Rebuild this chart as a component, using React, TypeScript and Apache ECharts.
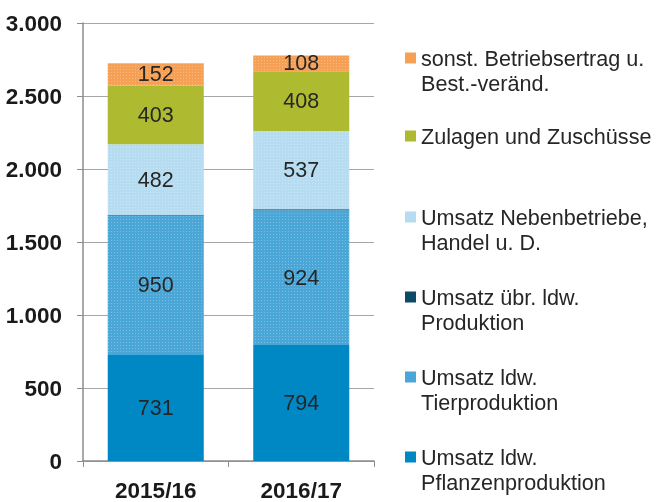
import React, { useEffect, useRef } from "react";
import * as echarts from "echarts";

const categories = ["2015/16", "2016/17"];
const seriesNames = [
  "Umsatz ldw. Pflanzenproduktion",
  "Umsatz ldw. Tierproduktion",
  "Umsatz übr. ldw. Produktion",
  "Umsatz Nebenbetriebe, Handel u. D.",
  "Zulagen und Zuschüsse",
  "sonst. Betriebsertrag u. Best.-veränd.",
];
const legendLines = [
  ["Umsatz ldw.", "Pflanzenproduktion"],
  ["Umsatz ldw.", "Tierproduktion"],
  ["Umsatz übr. ldw.", "Produktion"],
  ["Umsatz Nebenbetriebe,", "Handel u. D."],
  ["Zulagen und Zuschüsse"],
  ["sonst. Betriebsertrag u.", "Best.-veränd."],
];
const pflanzen = [731, 794];
const tier = [950, 924];
const uebrige = [6, 6];
const neben = [482, 537];
const zulagen = [403, 408];
const sonst = [152, 108];
const seriesValues = [pflanzen, tier, uebrige, neben, zulagen, sonst];
const showLabels = [true, true, false, true, true, true];
const colors = ["#0088c4", "#4aa6d6", "#0c4a66", "#b6dcf1", "#aebb30", "#f5a055"];
const hasPattern = [false, true, false, true, false, true];
const yTicks = [0, 500, 1000, 1500, 2000, 2500, 3000];
const legendCenters = [457, 377, 297, 217, 136, 58];

const FONT = "Liberation Sans, Arial, sans-serif";

export default function App() {
  const ref = useRef<HTMLDivElement>(null);
  useEffect(() => {
    if (!ref.current) return;
    const chart = echarts.init(ref.current, undefined, { renderer: "svg" });
    const graphics: any[] = [];
    seriesNames.forEach((_, i) => {
      const cy = legendCenters[i];
      graphics.push({
        type: "rect",
        shape: { x: 405, y: cy - 5.5, width: 11, height: 11 },
        style: { fill: colors[i] },
      });
      graphics.push({
        type: "text",
        x: 421,
        y: cy - 12.5,
        style: {
          text: legendLines[i].join("\n"),
          font: `21.6px ${FONT}`,
          fill: "#262626",
          lineHeight: 25,
          verticalAlign: "top",
          align: "left",
        },
      });
    });
    chart.setOption({
      animation: false,
      textStyle: { fontFamily: FONT },
      grid: { left: 83, right: 290, top: 23, bottom: 39, containLabel: false },
      xAxis: {
        type: "category",
        data: categories,
        axisLine: { lineStyle: { color: "#8c8c8c", width: 1.5 } },
        axisTick: { show: true, length: 6, lineStyle: { color: "#8c8c8c" } },
        axisLabel: {
          fontSize: 22.5,
          fontWeight: "bold",
          color: "#1a1a1a",
          margin: 18,
          fontFamily: FONT,
        },
      },
      yAxis: {
        type: "value",
        min: yTicks[0],
        max: yTicks[yTicks.length - 1],
        interval: 500,
        axisLine: { show: true, lineStyle: { color: "#8c8c8c", width: 1.5 } },
        axisTick: { show: true, length: 6, lineStyle: { color: "#8c8c8c" } },
        splitLine: { show: true, lineStyle: { color: "#a6a6a6", width: 1 } },
        axisLabel: {
          fontSize: 22.5,
          fontWeight: "bold",
          color: "#1a1a1a",
          margin: 21,
          fontFamily: FONT,
          formatter: (v: number) =>
            v.toString().replace(/\B(?=(\d{3})+(?!\d))/g, "."),
        },
      },
      graphic: graphics,
      series: seriesNames.map((name, i) => ({
        name,
        type: "bar",
        stack: "total",
        barWidth: "66%",
        data: seriesValues[i],
        itemStyle: {
          color: colors[i],
          decal: hasPattern[i]
            ? {
                symbol: "rect",
                symbolSize: 1,
                color: "rgba(255,255,255,0.28)",
                dashArrayX: [1, 2],
                dashArrayY: [1, 2],
                rotation: 0,
              }
            : undefined,
        },
        label: {
          show: showLabels[i],
          position: "inside",
          fontSize: 21.5,
          color: "#262626",
          fontFamily: FONT,
        },
      })),
    });
    return () => chart.dispose();
  }, []);
  return (
    <div
      ref={ref}
      style={{ position: "fixed", left: 0, top: 0, width: 664, height: 502 }}
    />
  );
}
